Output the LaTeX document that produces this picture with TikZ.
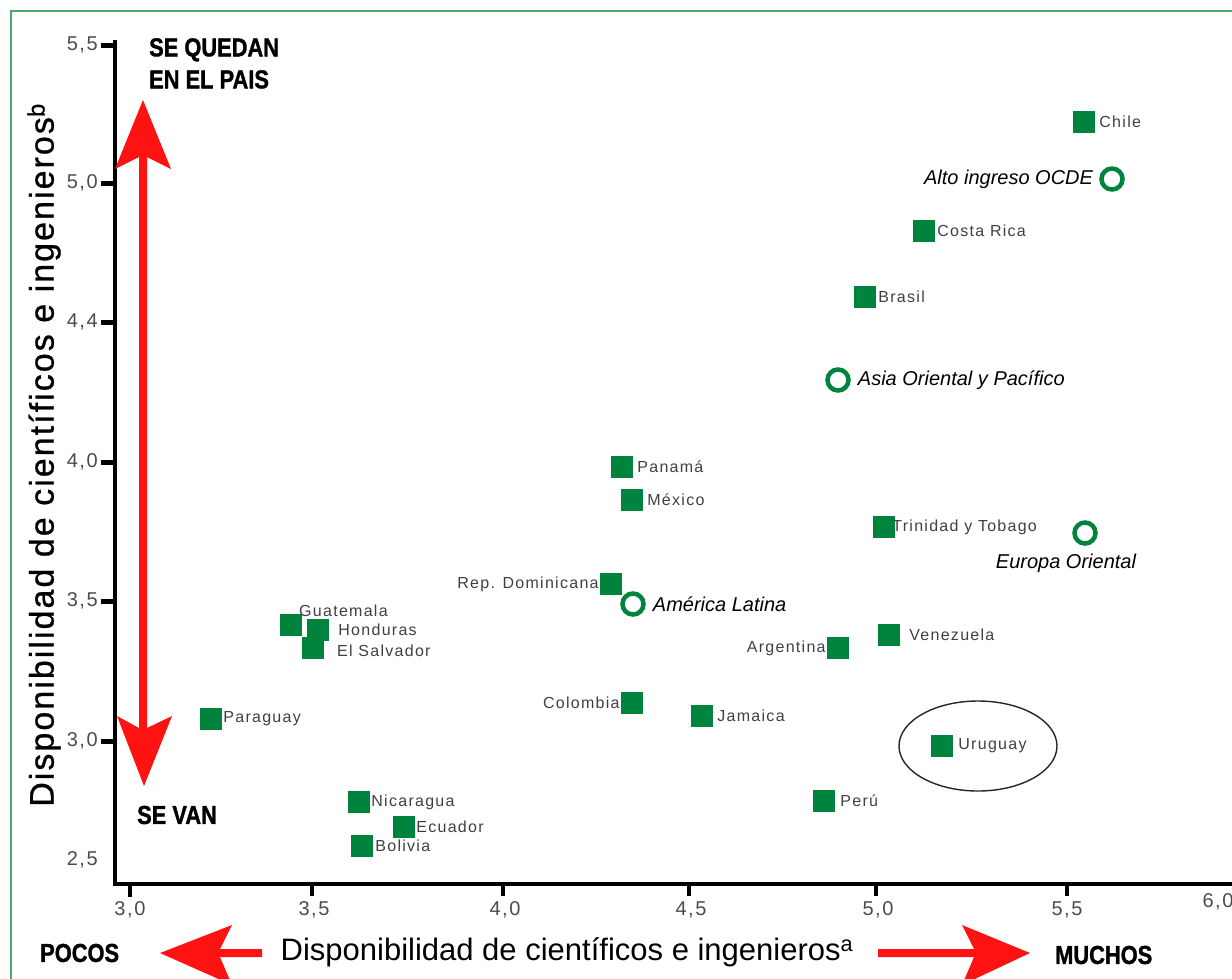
\documentclass[tikz,border=0pt]{standalone}
\usepackage{fontspec}
\setmainfont{Liberation Sans}
\newfontfamily\etqfont[LetterSpace=8]{Liberation Sans}
\newfontfamily\marcafont[LetterSpace=8]{Liberation Sans}
\newfontfamily\rotulofont[FakeStretch=0.84,FakeBold=1.2]{Liberation Sans}
\newfontfamily\ejefont[LetterSpace=6,FakeBold=0.8]{Liberation Sans}
\usetikzlibrary{positioning}
\definecolor{verde}{RGB}{0,132,61}
\definecolor{rojo}{RGB}{255,18,18}
\definecolor{marco}{RGB}{72,170,100}
\tikzset{
	pais/.style={rectangle,fill=verde,minimum size=22pt,inner sep=0pt},
	grupo/.style={circle,draw=verde,line width=4.5pt,minimum size=21pt,inner sep=0pt},
	etq/.style={font=\etqfont\fontsize{16}{18}\selectfont,text=black!75,inner sep=1pt},
	region/.style={font=\itshape\fontsize{20}{22}\selectfont,inner sep=1pt},
	marca/.style={font=\marcafont\fontsize{20}{21}\selectfont,text=black!70,inner sep=1pt},
	rotulo/.style={font=\rotulofont\bfseries\fontsize{26}{32}\selectfont,inner sep=0pt,align=left}
}
\begin{document}
\begin{tikzpicture}[x=1pt,y=-1pt,line
			join=miter]
			\useasboundingbox (0,0) rectangle (1232,978);
			\draw[marco,line width=2pt] (11,990) -- (11,11) -- (1245,11);
			\draw[line width=4pt] (115,40) -- (115,884) -- (1240,884);
			% ejes
			\draw[line width=5pt] (101,45) -- (115,45) (101,183) -- (115,183)
			(101,322) -- (115,322) (101,462) -- (115,462) (101,601) -- (115,601)
			(101,741) -- (115,741);
			\draw[line width=4pt] (130,884) -- (130,897) (312,884) -- (312,896)
			(503,884) -- (503,896) (689,884) -- (689,896) (876,884) -- (876,896)
			(1067,884) -- (1067,896);
			\node[marca,left] (y55) at (99,45) {5,5};
			\node[marca,left] (y50) at (99,183) {5,0};
			\node[marca,left] (y44) at (99,322) {4,4};
			\node[marca,left] (y40) at (99,462) {4,0};
			\node[marca,left] (y35) at (99,601) {3,5};
			\node[marca,left] (y30) at (99,741) {3,0};
			\node[marca,left] (y25) at (99,860) {2,5};
			\node[marca] (x30) at (130,910) {3,0};
			\node[marca] (x35) at (314,910) {3,5};
			\node[marca] (x40) at (505,910) {4,0};
			\node[marca] (x45) at (691,910) {4,5};
			\node[marca] (x50) at (878,910) {5,0};
			\node[marca] (x55) at (1067,910) {5,5};
			\node[marca] (x60) at (1218,902) {6,0};
			\node[font=\ejefont\fontsize{34}{36}\selectfont,rotate=90] (ejeY) at (44,455)
			{Disponibilidad de científicos e ingenieros\textsuperscript{b}};
			\node[font=\fontsize{31}{34}\selectfont] (ejeX) at (567,952)
			{Disponibilidad de científicos e ingenieros\textsuperscript{a}};
			% flechas
			\fill[rojo] (143,100) -- (171,169) -- (147,157) -- (147,728) -- (172,716)
			-- (144,786) -- (117,716) -- (139,728) -- (139,157) -- (115,169) -- cycle;
			\fill[rojo] (160,953) -- (232,925) -- (220,949) -- (262,949) -- (262,957)
			-- (220,957) -- (232,985) -- cycle;
			\fill[rojo] (878,949) -- (974,949) -- (962,925) -- (1030,953) -- (962,985)
			-- (974,957) -- (878,957) -- cycle;
			\node[rotulo,anchor=north west] (quedan) at (149,38) {SE QUEDAN\\EN EL PAIS};
			\node[rotulo,anchor=west] (van) at (137,815) {SE VAN};
			\node[rotulo,anchor=west] (pocos) at (40,953) {POCOS};
			\node[rotulo,anchor=west] (muchos) at (1055,955) {MUCHOS};
			% paises
			\node[pais] (chile) at (1084,122) {};
			\node[etq,right=3pt of chile] (chileL) {Chile};
			\node[pais] (costarica) at (924,231) {};
			\node[etq,right=1pt of costarica] (costaricaL) {Costa Rica};
			\node[pais] (brasil) at (865,297) {};
			\node[etq,right=1pt of brasil] (brasilL) {Brasil};
			\node[pais] (panama) at (622,467) {};
			\node[etq,right=3pt of panama] (panamaL) {Panamá};
			\node[pais] (mexico) at (632,500) {};
			\node[etq,right=3pt of mexico] (mexicoL) {México};
			\node[pais] (trinidad) at (884,527) {};
			\node[etq,right=-4pt of trinidad] (trinidadL) {Trinidad y Tobago};
			\node[pais] (repdom) at (611,584) {};
			\node[etq,left=0pt of repdom] (repdomL) {Rep. Dominicana};
			\node[pais] (guatemala) at (291,625) {};
			\node[etq,anchor=west] (guatemalaL) at (298,611) {Guatemala};
			\node[pais] (honduras) at (318,630) {};
			\node[etq,right=8pt of honduras] (hondurasL) {Honduras};
			\node[pais] (salvador) at (313,648) {};
			\node[etq,anchor=west] (salvadorL) at (336,651) {El Salvador};
			\node[pais] (venezuela) at (889,635) {};
			\node[etq,right=8pt of venezuela] (venezuelaL) {Venezuela};
			\node[pais] (argentina) at (838,648) {};
			\node[etq,left=0pt of argentina] (argentinaL) {Argentina};
			\node[pais] (paraguay) at (211,719) {};
			\node[etq,right=0pt of paraguay] (paraguayL) {Paraguay};
			\node[pais] (colombia) at (632,703) {};
			\node[etq,left=0pt of colombia] (colombiaL) {Colombia};
			\node[pais] (jamaica) at (702,716) {};
			\node[etq,right=3pt of jamaica] (jamaicaL) {Jamaica};
			\node[pais] (uruguay) at (942,746) {};
			\node[etq,right=4pt of uruguay] (uruguayL) {Uruguay};
			\draw[line width=1.4pt,black!85] ([xshift=36pt]uruguay.center) ellipse [x radius=79,y radius=45];
			\node[pais] (peru) at (824,801) {};
			\node[etq,right=4pt of peru] (peruL) {Perú};
			\node[pais] (nicaragua) at (359,802) {};
			\node[etq,right=0pt of nicaragua] (nicaraguaL) {Nicaragua};
			\node[pais] (ecuador) at (404,827) {};
			\node[etq,right=0pt of ecuador] (ecuadorL) {Ecuador};
			\node[pais] (bolivia) at (362,846) {};
			\node[etq,right=1pt of bolivia] (boliviaL) {Bolivia};
			% regiones
			\node[grupo] (ocde) at (1112,179) {};
			\node[region,left=5pt of ocde] (ocdeL) {Alto ingreso OCDE};
			\node[grupo] (asia) at (838,380) {};
			\node[region,right=6pt of asia] (asiaL) {Asia Oriental y Pacífico};
			\node[grupo] (europa) at (1085,533) {};
			\node[region] (europaL) at (1066,563) {Europa Oriental};
			\node[grupo] (latina) at (633,604) {};
			\node[region,right=6pt of latina] (latinaL) {América Latina};
	\end{tikzpicture}
\end{document}
